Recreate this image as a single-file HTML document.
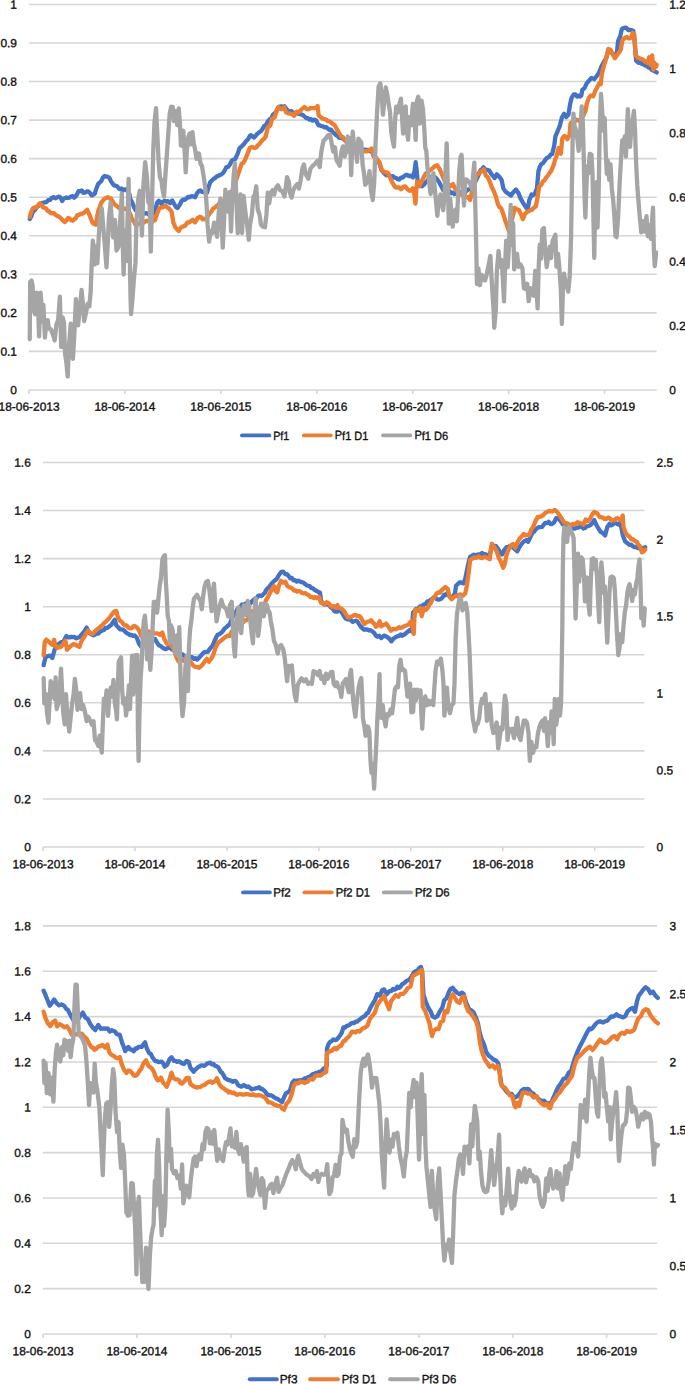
<!DOCTYPE html>
<html><head><meta charset="utf-8"><title>Portfolio charts</title>
<style>
html,body{margin:0;padding:0;background:#fff}
svg{display:block}
text{font-family:"Liberation Sans",sans-serif;font-size:11.95px;fill:#111;stroke:#111;stroke-width:.35}
.g{stroke:#d6d6d6;stroke-width:1.6;fill:none}
.ln{fill:none;stroke-width:4.3;stroke-linejoin:round;stroke-linecap:round}
</style></head><body>
<svg width="685" height="1384" viewBox="0 0 685 1384">
<rect width="685" height="1384" fill="#fff"/>

<g id="c1">
<path class="g" d="M28.9 4.45H656.6"/>
<text x="17" y="8.73" transform="rotate(.03 17 8.73)" text-anchor="end">1</text>
<path class="g" d="M28.9 43H656.6"/>
<text x="17" y="47.28" transform="rotate(.03 17 47.28)" text-anchor="end">0.9</text>
<path class="g" d="M28.9 81.55H656.6"/>
<text x="17" y="85.83" transform="rotate(.03 17 85.83)" text-anchor="end">0.8</text>
<path class="g" d="M28.9 120.1H656.6"/>
<text x="17" y="124.38" transform="rotate(.03 17 124.38)" text-anchor="end">0.7</text>
<path class="g" d="M28.9 158.65H656.6"/>
<text x="17" y="162.93" transform="rotate(.03 17 162.93)" text-anchor="end">0.6</text>
<path class="g" d="M28.9 197.2H656.6"/>
<text x="17" y="201.48" transform="rotate(.03 17 201.48)" text-anchor="end">0.5</text>
<path class="g" d="M28.9 235.75H656.6"/>
<text x="17" y="240.03" transform="rotate(.03 17 240.03)" text-anchor="end">0.4</text>
<path class="g" d="M28.9 274.3H656.6"/>
<text x="17" y="278.58" transform="rotate(.03 17 278.58)" text-anchor="end">0.3</text>
<path class="g" d="M28.9 312.85H656.6"/>
<text x="17" y="317.13" transform="rotate(.03 17 317.13)" text-anchor="end">0.2</text>
<path class="g" d="M28.9 351.4H656.6"/>
<text x="17" y="355.68" transform="rotate(.03 17 355.68)" text-anchor="end">0.1</text>
<path class="g" d="M28.9 389.95H656.6"/>
<text x="17" y="394.23" transform="rotate(.03 17 394.23)" text-anchor="end">0</text>
<text x="669.2" y="8.73" transform="rotate(.03 669.2 8.73)">1.2</text>
<text x="669.2" y="72.98" transform="rotate(.03 669.2 72.98)">1</text>
<text x="669.2" y="137.23" transform="rotate(.03 669.2 137.23)">0.8</text>
<text x="669.2" y="201.48" transform="rotate(.03 669.2 201.48)">0.6</text>
<text x="669.2" y="265.73" transform="rotate(.03 669.2 265.73)">0.4</text>
<text x="669.2" y="329.98" transform="rotate(.03 669.2 329.98)">0.2</text>
<text x="669.2" y="394.23" transform="rotate(.03 669.2 394.23)">0</text>
<path class="g" d="M29.05 389.95v4"/>
<text x="29.05" y="410.78" transform="rotate(.03 29.05 410.78)" text-anchor="middle">18-06-2013</text>
<path class="g" d="M124.97 389.95v4"/>
<text x="124.97" y="410.78" transform="rotate(.03 124.97 410.78)" text-anchor="middle">18-06-2014</text>
<path class="g" d="M220.89 389.95v4"/>
<text x="220.89" y="410.78" transform="rotate(.03 220.89 410.78)" text-anchor="middle">18-06-2015</text>
<path class="g" d="M316.81 389.95v4"/>
<text x="316.81" y="410.78" transform="rotate(.03 316.81 410.78)" text-anchor="middle">18-06-2016</text>
<path class="g" d="M412.73 389.95v4"/>
<text x="412.73" y="410.78" transform="rotate(.03 412.73 410.78)" text-anchor="middle">18-06-2017</text>
<path class="g" d="M508.65 389.95v4"/>
<text x="508.65" y="410.78" transform="rotate(.03 508.65 410.78)" text-anchor="middle">18-06-2018</text>
<path class="g" d="M604.57 389.95v4"/>
<text x="604.57" y="410.78" transform="rotate(.03 604.57 410.78)" text-anchor="middle">18-06-2019</text>
<path class="ln" stroke="#4472c4" d="M29.75 218.97 31.38 216.2 33.01 211.4 34.63 210.29 36.26 207.78 37.88 206.37 39.51 204.94 41.13 203.4 42.76 202.77 44.57 202.44 46.37 202.08 48.18 200.21 49.99 199.92 51.79 198.01 53.6 197.06 55.41 198.27 57.21 197.29 59.02 196.61 60.65 197.62 62.27 200.94 63.71 198.48 65.16 197.97 66.6 197.39 68.05 197.93 69.49 197.6 70.94 196.49 72.56 196.16 74.19 197.73 75.64 196.43 77.08 194.16 78.53 191.22 80.16 191.18 81.78 190.48 83.41 192.88 85.03 192.64 86.66 191.36 88.28 191.34 89.91 192.93 91.53 195.39 93.16 194.73 94.78 193.69 96.41 188.45 98.03 184.27 99.66 182.51 101.29 181.07 102.92 177.55 104.54 175.93 106.17 176.66 107.79 176.72 109.42 177.88 111.04 181.32 112.67 183.8 114.29 185.49 115.74 185.56 117.18 186.32 118.63 188.27 120.07 189.37 121.52 188.51 122.96 190.45 124.58 189.28 126.21 189.39 127.84 191.77 129.47 194.24 130 198.41 132.17 202.44 134.34 207.9 135.78 210.26 137.23 211.02 138.67 211.33 140.19 210.77 141.71 212.5 143.22 213.03 144.74 213.51 146.26 213.17 148.07 214 149.87 215.32 151.68 215.38 153.31 213.4 154.93 211.36 157.1 202.71 158.83 200.78 161.43 203.79 163.06 201.57 164.68 200.79 166.31 201.54 167.93 201.18 170.1 203.07 172.27 200.43 174.44 204.51 176.06 207.22 177.69 207.95 180.29 203.84 181.7 200.75 183.11 199.7 184.74 199.8 186.36 198.61 187.99 196.91 189.61 197.37 191.24 196.17 192.86 196.31 195.03 197.17 197.2 192.9 198.82 191.06 200.45 190.38 202.07 191.93 203.7 191.96 205.32 193.03 206.95 192.58 208.47 187.41 210.2 182.13 211.82 180.61 213.45 178.85 215.08 178.19 216.71 176.3 218.34 175.91 219.96 174.88 221.59 174.24 223.21 172.77 224.84 170.14 226.46 167.06 228.09 166.84 229.71 164.92 231.88 160.52 233.5 159.82 235.13 159.14 237.73 153.57 239.47 148.33 241.09 146.81 242.72 145.39 244.34 143.36 245.97 141.32 248.03 139.35 250.09 135.5 250.84 135.18 252.47 136.69 254.09 137.52 255.5 136.01 256.91 134.24 259.51 132.01 261.13 130.95 262.76 128.6 264.17 126.09 265.58 125.51 268.18 120.85 269.81 119.12 271.43 118.04 273.06 114.77 274.68 113.46 276.31 111.22 277.93 107.95 279.56 106.61 281.18 106.37 282.81 106.73 284.44 106.29 286.6 109.15 288.23 111.09 289.86 111.78 291.3 111.06 292.75 113.08 294.19 112.91 295.81 113.31 297.44 113.51 299.06 114.05 300.69 114.17 302.32 114.82 303.95 115.99 306.11 118.01 307.74 118.18 309.36 119.55 310.99 119.11 312.62 120.65 314.25 119.68 315.87 120.01 318.47 125.3 319.88 125.36 321.29 126.19 322.92 126.38 324.54 127.37 326.17 127.02 327.79 128.54 329.42 129.79 331.04 129.56 332.67 132.24 334.29 133.05 335.92 135.1 337.54 135.9 339.17 137.68 340.79 137.96 342.42 138.32 344.05 139.6 345.49 139.84 346.94 141.75 348.38 143.84 350.19 144.85 351.99 145.77 353.8 147.05 355.37 148.08 356.94 148.03 358.52 149.46 360.09 149.97 361.55 150.14 363.01 149.53 364.63 149.57 366.26 149.89 368.07 149.97 369.87 151.07 371.68 149.97 373.41 155.62 376.01 158.19 377.63 160.85 379.26 162.89 381.43 169.9 383.06 172.06 384.68 173.74 386.31 175.23 387.93 174.52 389.56 175.41 391.18 176.59 392.81 176.19 394.44 177.65 396.06 177.88 397.69 179.25 399.31 179.59 400.94 177.65 402.56 177.62 404.19 176.15 405.81 174.99 407.44 175.02 409.06 176.14 410.69 175.58 412.86 177.43 414.6 170.74 415.68 162.13 416.76 171.26 417.63 181.5 419.04 183.29 420.45 186.21 422.07 186.23 423.7 184.79 425.87 182.12 427.5 180.62 429.12 178.43 430.56 177.2 432.01 176.84 433.45 177.67 435.08 177.19 436.71 178.9 438.87 181.73 441.04 185.73 443.21 190.16 444.83 191.03 446.46 191.64 448.08 190.39 449.71 191.34 451.33 193.22 452.96 192.64 454.58 194.06 456.21 193.48 458.02 192.18 459.82 192.11 461.63 192.47 463.44 191.22 465.24 192.14 467.05 190.29 468.57 189.44 470.09 189.04 470.84 188.35 472.28 186.8 473.73 184.62 475.17 182.08 477.34 177.55 478.96 173.86 480.59 170.24 482 169.16 483.41 167.19 486.01 170.29 487.63 169.92 489.26 170.56 490.88 173.23 492.51 175.42 494.68 178 496.85 174.35 499.45 176.99 501.62 179.98 503.35 188.38 505.52 191.59 507.14 192.83 508.77 193.78 510.94 195.56 513.54 191.9 515.92 189.53 518.53 193.23 520.69 198.66 522.86 202.54 525.03 205.91 527.63 209.56 529.36 199.85 531.53 194.56 533.15 195.14 534.78 193.86 536.95 188.38 538.47 171.04 539.88 166.79 541.29 164.1 542.91 163.21 544.54 160.86 546.71 158.08 549.31 156.61 550.71 154.52 552.12 154.25 554.29 145.17 555.38 136.4 557.54 131.48 559.71 126.18 561.88 117.53 564.05 113.88 566.21 116.96 568.38 114.83 570.12 104.08 571.63 97.81 573.8 94.28 575.42 94.32 577.05 96.47 578.57 95.71 580.09 96.56 581.26 95.64 582.34 89.9 584.51 88.07 586.68 83.4 588.84 80.91 591.45 77.92 592.86 78.41 594.26 79.16 595.67 77.26 597.08 75.55 599.25 72.29 601.42 66.46 603.58 62.48 606.18 58.16 608.35 50.38 610.95 51.72 613.12 54.54 615.29 56.7 617.02 51.72 618.11 40.9 620.27 36.13 621.79 29.16 623.96 27.8 626.13 27.58 628.29 30.12 630.46 29.8 631.87 30.2 633.28 30.7 634.8 43.07 636.1 60.54 638.7 62.83 640.33 62.49 641.95 64.03 643.58 64.24 645.2 65.46 646.83 66.05 648.45 67.53 650.08 67.33 651.71 69.84 654.31 71.21 656.69 72.43"/>
<path class="ln" stroke="#ed7d31" d="M29.75 216.81 31.38 211.37 33.01 208.18 34.63 207.44 36.26 207.4 37.88 205.8 39.51 203.58 41.13 204.42 42.76 207.28 44.38 207.63 46.01 208.37 47.63 210.71 49.26 211.45 50.88 213.17 52.51 213.24 54.14 213.13 55.77 214.99 57.4 216.06 59.02 216.81 60.65 217.96 62.27 219.8 64.87 222.06 66.5 220.5 68.12 217.96 69.75 218.52 71.37 220.48 72.78 220.73 74.19 219.29 75.81 218.18 77.44 215.05 79.06 214.77 80.69 213.96 82.32 213.59 83.95 212.75 85.58 211.39 87.2 209.76 89.8 215.6 91.21 219.39 92.62 222.8 94.25 224.08 95.87 224.71 98.03 211.53 99.66 207.53 101.29 202.63 102.92 200.6 104.54 198.76 106.17 197.91 107.79 197.18 109.42 198.42 111.04 198.49 112.67 201.65 114.29 204.21 115.92 205.35 117.54 206.72 119.17 208.04 120.79 209.13 122.6 208.06 124.4 208.8 126.21 208.83 128.1 210.91 130 213.52 132.17 219.72 133.79 221.17 135.42 224.49 137.23 224.55 139.03 223.45 140.84 222.27 142.28 221.2 143.73 222.56 145.17 221.3 146.79 220.87 148.42 221 150.05 222.17 151.68 222.07 153.31 220.91 154.93 220.19 157.1 213.78 159.26 208.29 160.88 207.4 162.51 207.29 164.14 206.3 165.77 205.83 167.4 207.53 169.02 208.34 171.62 211.71 173.35 222.58 175.52 227.57 177.15 229.35 178.77 230.94 180.4 228.14 182.02 226.82 183.65 226.35 185.27 225.53 187.44 222.5 189.06 222.52 190.69 221.18 192.86 219.71 195.03 222.33 197.63 218.1 199.8 216.72 201.21 217.24 202.62 219.38 204.25 218.65 205.87 219.71 208.47 215.36 209.88 212.98 211.29 211.69 212.91 208.7 214.54 207.89 216.16 206.23 217.79 205.18 219.41 203.28 221.04 202.87 222.66 201.04 224.29 200.67 225.91 198.99 227.54 197.11 229.16 195.25 230.79 194.37 232.42 190.61 234.05 185.42 235.68 181.61 237.3 176.9 239.47 170.27 241.63 163.76 243.25 162.96 244.88 160.24 247.05 154.88 248.67 151.14 249.75 147.9 251.92 146.98 254.09 147.87 256.26 147.39 257.88 145.18 259.51 143.88 261.13 141.69 262.76 139.75 264.17 138.71 265.58 136.93 267.75 127.5 270.35 125.54 272.08 118.71 274.68 117.43 276.42 111.69 278.58 107.28 281.18 109.25 282.81 108.3 284.44 107.3 285.95 112.15 287.36 112.96 288.77 113.49 290.39 113.64 292.02 113.91 294.19 115.89 296.79 111.69 298.2 112.58 299.61 111.6 301.78 109.18 304.38 107.05 305.79 108.22 307.2 109.37 308.82 109.23 310.45 107.93 312.07 108.08 313.7 108.12 315.87 107.82 317.6 105.96 318.68 115.49 321.29 117.48 322.92 118.74 324.54 119.08 326.17 119.68 327.79 121.03 329.42 121.32 331.04 122.49 333.64 124.42 335.05 125.76 336.46 128.51 338.08 131.34 339.71 134.04 341.33 136.57 342.96 137.31 344.7 140.45 346.29 141.77 347.88 142.83 349.47 145.18 351.27 145.16 353.08 146.43 354.88 147.74 356.84 148.62 358.79 149.9 358.67 149.09 360.3 150.92 361.92 150.27 363.55 150.72 365.17 151.3 366.8 151.39 368.42 150.51 370.05 149.51 371.68 148.46 373.41 155.57 376.01 157.66 377.63 160.17 379.26 161.82 381.43 169.04 383.06 171.11 384.68 172.17 386.31 172.35 387.93 172.81 390.1 177.81 392.27 182.46 394.44 186.15 396.06 187.7 397.69 187.47 399.31 187.51 400.94 189.21 403.11 186.83 405.27 186.31 407.44 189.18 409.06 190.52 410.69 190.71 412.86 188.29 414.38 194.73 415.46 203.54 416.33 190.09 417.2 181.72 419.36 186.04 421.53 181.48 423.7 177.17 425.87 173.41 427.5 173.17 429.12 170.93 430.75 169.67 432.37 168.46 434.54 166.4 437.14 165.13 439.31 168.59 441.47 173.42 443.21 177.52 444.83 181.22 446.46 183.22 448.3 184.03 450.14 186.4 451.55 185.03 452.96 184.09 455.13 188.55 456.54 190.53 457.95 191.8 460.55 194.48 462.5 194.38 464.45 195.42 466.29 197.15 468.14 197.21 470.09 200.05 471.55 193.64 473.01 188.47 474.63 182.82 476.26 175.64 478.42 173.41 480.05 171.53 481.68 171.38 483.84 169.3 486.01 175.95 487.63 176.97 489.26 180.21 491.43 186.4 493.6 190.65 495.77 196.22 497.93 204.2 499.56 207.15 501.18 208.3 503.35 214.41 505.52 221.36 507.69 227.41 509.42 232.43 511.59 221.09 513.11 214.97 514.62 207.95 516.79 209.14 518.96 210 521.13 214.63 522.86 219.13 525.03 213.85 527.63 211.69 529.04 210.97 530.45 210.14 531.86 209.83 533.27 208.25 535.87 206.23 537.6 197.22 539.12 186.59 541.29 184.74 542.91 181.55 544.54 180.24 546.16 177.56 547.79 175.52 549.41 173.33 551.04 171.11 553.64 165.24 555.05 159.71 556.46 156.39 558.63 147.96 560.79 153.76 562.31 138.61 564.48 135.87 565.89 136.72 567.3 139.16 569.47 135.48 570.55 123.4 572.72 121.51 574.35 121.46 575.97 119.68 578.14 120.05 580.09 121.52 581.26 120.1 583.42 115.28 585.59 110.51 586.68 103.94 588.84 97.94 591.01 95.45 593.18 96.25 595.35 90.71 597.51 86.91 599.25 83.16 600.77 84.26 601.85 73.83 604.02 65.4 606.18 58.63 608.35 48.89 610.52 49.8 612.69 54.24 614.86 58.19 617.02 54.97 619.19 52.43 620.92 49.01 622.44 40.09 624.61 38.14 626.78 36.95 628.95 38.62 631.11 37.75 632.63 32.87 634.36 34.53 635.45 54.44 637.62 57.75 639.78 58.23 641.19 59.45 642.6 59.52 645.2 61.64 647.37 63.08 649.1 57.24 650.62 65.08 652.14 55.32 653.44 69.69 654.52 62.88 656.04 66.8 656.69 64.81"/>
<path class="ln" stroke="#a5a5a5" d="M29.75 339.28 30.19 281.78 31.49 280.63 32.57 285.17 33.44 308.88 35.17 314.26 36.69 292.66 37.99 304.35 39.08 336.46 40.59 292.57 41.68 307.26 42.76 321.95 43.41 304.85 44.93 337.63 46.45 320.95 47.75 320.19 48.83 328.38 50.78 329.16 52.51 333.34 54.68 340.35 56.42 324.41 58.15 320.16 59.88 296.7 61.18 346.96 62.7 317.51 64 322.67 65.09 353.85 66.39 362.8 67.69 376.45 68.99 345.44 70.72 323.69 71.59 338.78 72.89 358.95 74.19 337.42 75.92 299.21 77.01 309.05 78.09 325.3 79.83 308.63 81.56 289.92 82.86 303.3 84.16 321.1 85.9 313.2 87.63 303.99 89.36 306.31 90.66 291.53 91.53 268.08 92.83 240.59 93.92 249.99 94.78 264.43 96.08 246.28 97.38 263.08 98.47 241.58 99.77 220.45 101.72 208.27 103.02 224.04 104.54 242.13 106.49 267.35 107.79 242.24 108.87 218.28 110.61 202.52 111.91 223.91 113.21 237.45 114.94 219.87 116.46 250.52 118.41 247.12 119.93 224.18 121.01 207.04 121.88 193.43 122.75 242.25 123.61 274.49 124.91 230.63 126.43 260.86 127.51 220.25 128.6 178.97 129.47 241.7 130.55 298 131.08 314.16 132.6 297.67 133.9 278.75 135.42 263.4 136.5 220.08 138.24 198.81 139.75 190.77 140.84 211.52 141.92 235.51 143.44 185.15 145.17 162.2 146.91 176.81 148.42 202.69 149.51 193.83 150.81 251.58 152.11 198.71 153.19 152.69 154.49 122.15 156.01 108.1 157.31 133.7 158.61 161.65 159.91 177.14 161.43 180.83 162.51 189.34 164.03 196.67 165.33 176.25 166.85 154.74 168.37 132.86 169.67 113.86 171.18 106.77 172.7 106.91 174 121.03 175.52 111.06 177.25 125.2 178.77 108.37 179.86 122.1 180.94 145.62 182.02 132.83 183.32 130.79 184.62 151.04 185.71 172.35 186.79 151.1 188.09 137.84 189.61 133.35 190.91 144.36 192.43 132.08 193.73 143.88 195.03 148.92 196.55 158.91 198.93 153.45 200.45 163.39 201.97 166.15 203.7 176.6 205.22 187.63 206.52 203.19 207.6 224.66 209.12 241.62 210.64 231.01 212.37 232.93 214.1 222.7 215.62 229.19 217.14 236.89 218.87 211.18 220.39 198.63 221.91 228.84 222.77 247.63 224.08 220.53 225.38 189.67 226.89 202.31 228.41 211.83 229.71 192.24 231.01 231.52 232.31 198.22 233.61 176.61 234.91 163.02 236.21 194.49 237.73 233.18 239.03 211.23 240.55 194.46 242.07 232.98 243.58 195.99 245.32 211.67 247.05 223.93 248.79 239.72 249.97 224.84 251.92 214.21 253.44 196.62 254.74 194.93 256.26 186.29 257.77 209.52 259.51 214.52 261.03 224.68 262.76 226.63 264.93 227.28 266.45 214.45 267.75 192.59 269.26 203.26 270.78 192.64 272.51 190.37 274.25 194.55 275.77 188.32 277.93 185.23 280.1 190.2 282.27 191.18 284.44 196.43 285.95 185.73 287.04 177.1 288.77 181.48 289.86 192.68 291.59 197.63 293.11 190.74 295.27 186.4 297.44 183.99 298.96 188.61 300.69 179.91 302.43 168.36 303.95 164.39 305.46 173.26 306.87 176.26 308.28 178.72 310.45 168.75 312.62 165.98 314.78 164.1 316.19 162.27 317.6 160.8 319.77 167.02 321.29 151.8 323.45 140.82 325.62 138.67 327.79 135.47 329.96 134.56 331.47 142.31 333.21 151.61 334.94 147.34 336.46 160.19 337.98 162.52 339.71 165.66 341.45 151.3 342.96 146.38 344.7 156.47 346.21 150.87 347.73 136.52 349.03 151.58 350.12 138.07 351.2 175.15 352.72 131.61 354.23 146.88 355.97 150.95 357.05 161.81 358.35 138.75 360.09 140.84 361.27 142.36 362.57 164.37 364.09 173.55 365.17 184.72 366.91 182.25 368.42 179.55 369.51 171.11 371.03 190.56 372.76 200.14 374.28 181.34 375.58 142.79 377.1 111.9 378.61 86.59 380.35 83.28 381.86 97.45 382.95 114.67 384.25 101.86 385.77 87.35 387.28 94.82 388.58 103.27 390.1 112.64 391.18 131.93 392.7 140.97 394 146.67 395.09 120.52 396.17 106.63 397.69 112.63 399.42 104.02 400.94 98.69 402.02 116.89 403.11 133.64 404.19 116.85 405.71 106.37 406.79 130.11 408.09 139.7 409.39 117.14 411.13 125.31 412.86 103.89 414.38 116.32 415.68 139.85 416.76 101.65 418.28 96.7 419.8 123.57 421.53 100.54 423.05 109.95 424.13 125.7 425.22 147.28 426.3 150.9 427.6 168.87 429.12 181.9 430.64 193.98 431.94 181.94 433.45 173.1 434.97 190.68 436.27 203.81 437.36 215.78 438.87 199.25 440.61 194.45 441.91 203.9 443.21 210.21 444.51 194.26 445.59 168.86 446.68 143.31 447.76 181.83 448.84 223.61 450.14 198.61 451.45 214.58 452.75 226.69 454.05 211.6 455.56 209.44 456.86 221.27 457.95 198.73 459.25 171.4 460.55 156.86 461.63 154.81 462.72 182.15 464.02 205.58 465.32 179.34 467.05 179.76 468.79 182.03 470.09 183.76 471.92 188.82 473.44 171.77 474.31 162.61 475.17 201.72 476.26 245.61 476.91 283.98 478.42 268.48 479.94 285.23 481.68 274.98 483.41 277.63 484.93 280.47 486.45 275.94 487.75 269.17 489.26 261.82 490.35 255.93 491.43 275.86 492.51 293.08 493.6 310.25 494.25 327.75 495.77 310.43 496.85 271.2 498.58 251.03 500.1 266.68 501.62 260.17 502.92 279.89 504 301.4 505.09 266.79 506.17 240.6 507.69 267.09 508.77 248.95 509.86 223.42 510.72 204.79 512.02 245.45 513.11 223.25 514.19 269.41 515.71 258.07 517.01 253.75 518.53 266.8 520.69 264.56 522.43 268.41 523.95 288.38 525.46 289.11 527.2 283.82 528.71 301.21 530.45 288.12 531.97 293.2 533.7 295.78 535.22 270.99 536.52 288.54 537.6 308.36 538.68 266.96 539.77 244.68 541.07 258.58 542.37 229.46 543.89 228 545.19 249.94 546.71 267.04 548.22 256.41 549.74 246.79 551.04 258.02 552.56 240.63 553.86 238.17 555.38 234.75 556.46 266.64 557.98 253.81 559.28 266.62 560.79 288.76 561.88 324.05 562.96 288.09 564.05 273.62 565 280.01 566.73 286.09 568.25 291.56 569.77 275.26 571.07 237.95 571.94 183.92 572.8 130.22 573.45 113.57 574.54 125.51 575.84 129.97 577.36 139.13 578.66 150.8 579.74 140.86 580.82 121.58 581.69 106.45 582.77 121.6 583.64 151.96 584.51 194.9 585.38 217.53 586.24 190.43 587.33 166.46 588.41 173.31 589.71 153.78 591.45 154.68 592.53 173.87 593.4 216.95 594.26 257.88 595.35 194.86 596.65 182.06 597.51 227.52 598.6 195.5 599.68 129.73 600.98 93.9 602.28 112.2 603.37 130.26 604.67 118.1 605.75 152.02 606.84 173.9 607.92 160.81 609.22 179.79 610.52 164.41 611.82 188.72 613.12 199.41 614.42 216.95 615.51 236.29 616.59 237.12 618.11 217.15 619.62 183.73 620.92 160.89 622.23 140.31 623.53 147.3 624.83 136.36 625.91 156.51 626.99 130.34 627.86 109.04 628.95 130.42 630.03 146.88 631.33 127.98 632.63 121.09 633.93 110.99 635.01 130.11 636.1 162.58 637.18 184.2 638.27 198.95 639.78 216.86 641.3 232.46 643.03 221.11 644.77 231.61 646.5 216.24 647.8 236.39 649.54 225.46 650.84 238.76 652.14 219 653.01 207.68 653.87 249.76 654.74 266.05 655.61 257.82 656.04 252.47"/>
<path class="ln" style="stroke-width:3.9" stroke="#4472c4" d="M241.95 435.4H269.35"/>
<text x="273.2" y="439.5" transform="rotate(.03 273.2 439.5)" textLength="16.0" lengthAdjust="spacingAndGlyphs">Pf1</text>
<path class="ln" style="stroke-width:3.9" stroke="#ed7d31" d="M303.85 435.4H330.65"/>
<text x="334.8" y="439.5" transform="rotate(.03 334.8 439.5)" textLength="33.5" lengthAdjust="spacingAndGlyphs">Pf1 D1</text>
<path class="ln" style="stroke-width:3.9" stroke="#a5a5a5" d="M383.05 435.4H410.25"/>
<text x="414.4" y="439.5" transform="rotate(.03 414.4 439.5)" textLength="33.9" lengthAdjust="spacingAndGlyphs">Pf1 D6</text>
</g>
<g id="c2">
<path class="g" d="M42.9 462.5H644.4"/>
<text x="30.8" y="466.78" transform="rotate(.03 30.8 466.78)" text-anchor="end">1.6</text>
<path class="g" d="M42.9 510.56H644.4"/>
<text x="30.8" y="514.84" transform="rotate(.03 30.8 514.84)" text-anchor="end">1.4</text>
<path class="g" d="M42.9 558.62H644.4"/>
<text x="30.8" y="562.9" transform="rotate(.03 30.8 562.9)" text-anchor="end">1.2</text>
<path class="g" d="M42.9 606.69H644.4"/>
<text x="30.8" y="610.97" transform="rotate(.03 30.8 610.97)" text-anchor="end">1</text>
<path class="g" d="M42.9 654.75H644.4"/>
<text x="30.8" y="659.03" transform="rotate(.03 30.8 659.03)" text-anchor="end">0.8</text>
<path class="g" d="M42.9 702.81H644.4"/>
<text x="30.8" y="707.09" transform="rotate(.03 30.8 707.09)" text-anchor="end">0.6</text>
<path class="g" d="M42.9 750.88H644.4"/>
<text x="30.8" y="755.15" transform="rotate(.03 30.8 755.15)" text-anchor="end">0.4</text>
<path class="g" d="M42.9 798.94H644.4"/>
<text x="30.8" y="803.22" transform="rotate(.03 30.8 803.22)" text-anchor="end">0.2</text>
<path class="g" d="M42.9 847H644.4"/>
<text x="30.8" y="851.28" transform="rotate(.03 30.8 851.28)" text-anchor="end">0</text>
<text x="656.5" y="466.78" transform="rotate(.03 656.5 466.78)">2.5</text>
<text x="656.5" y="543.68" transform="rotate(.03 656.5 543.68)">2</text>
<text x="656.5" y="620.58" transform="rotate(.03 656.5 620.58)">1.5</text>
<text x="656.5" y="697.48" transform="rotate(.03 656.5 697.48)">1</text>
<text x="656.5" y="774.38" transform="rotate(.03 656.5 774.38)">0.5</text>
<text x="656.5" y="851.28" transform="rotate(.03 656.5 851.28)">0</text>
<path class="g" d="M43.05 847v4"/>
<text x="43.05" y="868.18" transform="rotate(.03 43.05 868.18)" text-anchor="middle">18-06-2013</text>
<path class="g" d="M134.99 847v4"/>
<text x="134.99" y="868.18" transform="rotate(.03 134.99 868.18)" text-anchor="middle">18-06-2014</text>
<path class="g" d="M226.93 847v4"/>
<text x="226.93" y="868.18" transform="rotate(.03 226.93 868.18)" text-anchor="middle">18-06-2015</text>
<path class="g" d="M318.87 847v4"/>
<text x="318.87" y="868.18" transform="rotate(.03 318.87 868.18)" text-anchor="middle">18-06-2016</text>
<path class="g" d="M410.81 847v4"/>
<text x="410.81" y="868.18" transform="rotate(.03 410.81 868.18)" text-anchor="middle">18-06-2017</text>
<path class="g" d="M502.75 847v4"/>
<text x="502.75" y="868.18" transform="rotate(.03 502.75 868.18)" text-anchor="middle">18-06-2018</text>
<path class="g" d="M594.69 847v4"/>
<text x="594.69" y="868.18" transform="rotate(.03 594.69 868.18)" text-anchor="middle">18-06-2019</text>
<path class="ln" stroke="#4472c4" d="M43.67 665.16 45.4 657.53 47.57 656.09 50.17 655.71 52.34 657.88 54.08 651.48 55.59 646.83 57 644.78 58.41 644.16 61.01 642.15 62.42 642.46 63.83 640.79 66.43 635.99 68.06 637.31 69.68 637.38 71.31 636.79 72.93 637.03 74.56 637.02 76.18 638.39 77.81 637.61 79.44 637.2 81.6 634.61 83.01 633.04 84.42 631.26 86.59 627.54 88.11 630.61 89.52 633.19 90.92 633.95 93.53 635.23 95.16 634.61 96.78 633.35 98.41 633.61 100.03 631.7 102.63 630.42 104.04 630.03 105.45 627.9 107.08 627.93 108.7 626.82 111.3 624.73 113.47 621.56 114.77 619.74 116.29 625.33 118.45 627.45 120.08 629.25 121.71 629.41 123.33 629.79 124.96 631.35 126.59 632.98 128.21 633.85 129.84 635.04 131.46 634.79 133.09 635.8 134.71 635.53 136.88 637.89 139.05 643.63 141.21 646.62 142.84 646.17 144.47 645.43 146.09 642.34 147.72 642.14 149.19 641.21 150.67 641.1 152.14 640.71 153.62 639.05 155.09 639.01 156.92 642.46 159.09 645.43 160.72 645.94 162.34 647.55 163.97 648.57 165.59 649.21 167.22 648.27 168.84 647.63 170.29 647.75 171.73 649.39 173.18 649.78 174.99 650.88 176.79 653.05 178.6 654.26 180.41 654.39 182.21 654.24 184.02 655.52 185.65 656.79 187.27 656.22 188.9 656.02 190.52 657.16 192.15 657.05 193.77 658.89 195.4 658.23 197.02 659.51 199.19 657.68 201.79 654.73 203.2 653.03 204.61 652.11 206.24 651.93 207.86 651.73 210.03 648.55 212.63 645.6 214.8 640.4 216.21 637.05 217.62 634.82 219.25 634.31 220.87 633.06 222.5 631.67 224.12 629.03 225.75 627.85 227.37 626.24 229.97 623.96 231.71 618.66 233.87 615.4 235.5 613.17 237.12 609.66 238.75 607.67 240.38 606.91 242 604.51 243.63 604.87 245.25 603.92 246.88 602.7 248.5 603.6 250.13 603.53 251.75 601.56 253.38 599.92 255 598.79 256.63 598.12 258.25 595.82 259.88 595.44 261.51 595.97 263.14 594.48 265.09 592.54 265.84 590.5 268.01 587.94 269.63 586.47 271.26 583.91 272.88 582.28 274.51 580.74 276.68 579.02 278.84 575.23 281.01 572.13 283.18 571.55 285.35 574.26 286.98 574.13 288.6 575.98 290.23 578.37 291.85 577.95 293.48 580.45 295.1 580.05 296.73 581.54 298.35 580.68 299.98 581.54 301.6 582.21 303.23 582.51 304.86 583.82 306.49 585.24 308.11 585.87 309.74 586.21 311.36 587.97 312.99 588.43 314.61 589.95 316.24 590.78 317.86 591.62 320.03 592.71 321.11 600.94 322.74 603.26 324.36 604.51 325.99 603.13 327.62 604.48 329.25 604.99 330.87 607.58 332.5 608.17 334.12 610.96 335.75 611.68 337.37 611.51 339.97 610.51 341.38 611.8 342.79 614.01 344.42 616.86 346.04 618.74 347.67 619.37 349.29 619.5 350.92 620.05 352.54 621.91 354.17 621.33 355.79 620.62 357.42 621.51 359.05 624.18 360.68 626.64 362.3 628.18 363.93 629.68 365.55 629.49 367.18 629.41 368.8 630.28 370.43 630.24 372.05 631.24 373.57 632.3 375.09 634.33 375.84 635.58 377.46 636.78 379.09 635.66 381.26 638.09 382.67 636.66 384.08 635.57 386.68 636.77 389.28 638.61 391.45 641.33 392.86 639.25 394.26 638.04 395.88 636.95 397.51 636.24 399.14 635.82 400.77 634.42 402.39 635.74 404.02 634.77 405.64 633.47 407.27 632.07 409.44 630.16 411.6 631.31 413.12 612.29 414.53 611.37 415.94 608.99 417.56 608.88 419.19 607.24 420.81 605.81 422.44 606.47 424.06 604.28 425.69 603.97 427.32 601.51 428.95 601.38 430.57 599.92 432.2 598.77 433.82 597.36 435.45 597.9 437.07 599.38 438.7 599.56 440.87 598.95 442.5 597.51 444.12 594.59 445.75 595 447.37 593.18 449.97 596.67 451.38 597.63 452.79 596.56 454.96 593.45 456.04 585.78 458.64 583.3 460.05 582.18 461.46 582.66 463.63 583.4 465.14 579.13 466.88 570.78 468.61 562.42 470.13 556.93 472.3 555.6 473.93 554.59 475.55 555.42 477.18 554.7 478.8 554.5 480.43 554.67 482.05 553.03 483.57 554.52 485.09 554.07 486.55 555.18 488.01 555.42 490.17 553.43 491.91 547.16 494.51 545.94 496.13 546.19 497.76 548.42 499.93 552.16 502.1 554.5 504.26 550.01 506.43 547.2 508.06 547.12 509.68 546.03 511.3 547.2 512.93 547.36 515.1 549.47 517.27 551.32 519.44 547.01 521.6 544.09 523.23 541.97 524.86 540.94 526.49 540.03 528.11 541.84 530.27 537.33 532.44 532.8 534.07 531.61 535.69 529.4 537.32 528.13 538.95 527.17 540.58 527.02 542.2 526.85 543.83 524.42 545.45 522.81 547.08 523.18 548.7 521.88 550.33 523.98 551.95 524.09 554.12 522.32 556.29 517.97 558.45 518.63 560.62 520.95 562.79 524.22 564.41 525.24 566.04 525.04 567.49 525.83 568.93 525.32 570.38 526.76 572 527.48 573.63 528.54 575.27 528.54 576.92 527.53 578.54 527.62 580.17 526.42 581.79 526.69 583.42 528.55 585.05 528.01 586.68 526.41 588.3 525.97 589.93 525.45 592.1 523.43 594.26 520.07 596.43 524.94 598.6 528.78 600.77 531.97 602.93 533.19 605.1 535.37 607.27 527.27 609.44 523.88 611.07 525.37 612.69 524.5 614.32 523.12 615.94 523.12 617.57 524.36 619.19 523.45 621.36 527.5 623.09 536.26 625.26 541.59 627.86 543.54 629.49 544.89 631.11 544.55 632.74 546.22 634.36 547.1 635.99 546.87 637.62 548.03 639.25 547.81 640.87 549.38 643.47 547.91 645.2 547.14"/>
<path class="ln" stroke="#ed7d31" d="M43.67 655.4 44.75 642.16 46.27 639.52 48.44 641.38 50.61 643.47 52.34 644.73 54.08 639.89 55.59 646.55 57.76 647.75 59.17 646.71 60.58 647.12 63.18 644.21 65.35 640.64 67.08 649.76 69.68 646.96 72.28 644.79 73.69 644.04 75.1 644.6 77.27 645.73 79.44 646.85 80.95 642.29 83.12 638.34 84.53 636.66 85.94 633.63 88.11 630.64 90.27 632.83 91.68 633.75 93.09 633.62 95.69 630.66 98.29 628.44 99.7 627.45 101.11 625.93 102.52 624.84 103.93 623.11 106.53 621.08 109.13 618.36 110.54 616.29 111.95 614.41 114.12 611.64 116.29 610.94 117.8 616.76 119.97 620.81 122.14 622.21 123.55 624.46 124.96 625.43 126.59 625.4 128.21 627.58 129.84 628.33 131.46 628.31 132.87 626.74 134.28 626.01 136.88 627.35 139.05 630.53 141.21 636.02 142.66 634.48 144.1 634.77 145.55 634.08 147.18 631.82 148.8 631.43 150.43 633.02 152.05 633.54 153.57 632.88 155.09 633.43 157.57 633.37 160.17 634.82 162.34 632.59 164.08 638.46 166.68 643.54 168.31 643.85 169.93 644.43 171.34 646.15 172.75 646.98 175.35 654.08 176.97 658.56 178.6 661.55 180.22 661.88 181.85 659.5 183.29 660.32 184.74 661.13 186.18 660.58 187.63 661.98 189.07 660.72 190.52 661.8 193.12 665.57 194.53 666.52 195.94 667.03 197.35 666.86 198.76 667.88 201.36 666.05 203.96 662.71 205.37 660.38 206.78 658.9 208.95 661.76 211.11 658.97 213.28 654.73 215.45 647.89 217.62 643.63 219.03 642.06 220.43 641.06 223.03 639.03 224.66 637.49 226.29 636.58 227.91 635.67 229.54 636.03 231.71 631.28 233.34 630.84 234.96 628.16 236.59 627.43 238.21 624.84 239.84 624.66 241.46 622.91 243.09 622.45 244.71 620.34 246.34 620.43 247.96 618.63 249.59 614.64 251.21 611.65 252.66 611.48 254.1 610.74 255.55 609.81 256.99 608.95 258.44 609.08 259.88 607.43 261.51 606.28 263.14 604.18 265.09 603.07 265.84 600.66 268.01 596.93 270.17 592.56 272.34 588.4 274.08 586.15 275.59 591 277.33 592.28 278.84 585.74 281.01 580.78 283.18 582.62 285.35 581.79 287.51 586.19 289.14 587.1 290.77 587.64 292.39 588.57 294.02 590.51 295.64 590.51 297.27 591.59 298.89 590.9 300.52 591.63 302.14 593.03 303.77 593.49 305.39 593.05 307.02 594.44 308.64 594.99 310.27 597.02 311.9 596.86 313.53 598.05 315.15 597.11 316.78 597.99 318.95 597.05 321.11 603.02 322.74 602.71 324.36 604.2 326.53 602.27 328.7 603.31 330.32 605.5 331.95 606.87 333.57 606.17 335.2 607.45 337.37 605.1 339 607.93 340.62 608.3 342.25 609.29 343.87 610.76 346.47 615 347.88 617.27 349.29 617.31 350.92 616.89 352.54 616.04 354.17 615.08 355.79 614.97 357.42 616.13 359.05 615.83 360.68 617.4 362.3 620.34 364.47 624.09 366.1 622.43 367.72 621.6 369.35 621.47 370.97 620.21 373.14 622.84 375.09 624.66 375.84 626.79 378.01 624.92 379.74 621.24 381.26 626.36 383.42 624.8 384.83 624.56 386.24 623.62 388.84 627.4 391.01 630.71 392.63 629.14 394.26 628.96 395.88 629.28 397.51 628.2 399.14 627.28 400.77 627.91 402.39 627.32 404.02 626.36 405.64 625.55 407.27 625.23 408.68 624.37 410.09 622.4 411.6 620.95 412.69 627.34 413.77 633.84 414.42 618.04 415.29 609.55 416.7 609.53 418.11 610.78 420.27 607.84 421.79 616.06 423.53 608.77 425.69 610.08 428.29 607.16 429.7 604.19 431.11 602.39 432.52 598.82 433.93 598.15 436.53 593.66 438.15 592.42 439.78 592.77 441.19 590.81 442.6 589.33 445.2 586.98 447.8 589.02 449.54 596.85 451.71 599.19 454.31 596.75 455.72 595.83 457.12 595.99 458.75 594.77 460.38 594.45 462.98 595.49 465.14 593.69 466.88 585.64 468.61 572.97 470.13 560.03 472.3 558.71 473.93 557.49 475.55 557.94 477.18 557.37 478.8 556.47 480.43 557.85 482.05 558.02 483.57 557.28 485.09 556.85 487.57 558.02 489.74 559.21 490.82 549.51 491.91 543.77 494.08 546.93 496.68 551.33 498.84 558.19 501.01 561.91 503.18 567.71 504.7 564.24 506.43 555.31 508.6 549.26 510.77 545.79 512.93 544.04 515.1 547.78 517.27 542.74 519.44 538.77 521.6 536.54 523.77 533.96 525.18 535.39 526.59 534.94 529.19 535.25 531.36 529.32 533.53 526.03 535.69 520.64 537.86 516.86 539.49 516.98 541.11 516.37 543.28 514.91 545.45 512.64 547.08 511.97 548.7 510.99 550.33 511.26 551.95 511.46 553.36 510.76 554.77 509.91 557.37 512.21 559.54 515.24 561.71 518.53 563.87 522.13 566.04 523.2 567.85 523.58 569.65 524.59 571.46 525.52 573.09 523.76 574.71 524.06 576.14 523.64 577.57 522.21 580.17 523.31 581.79 523.29 583.42 524.65 585.59 519.51 587.76 521.23 589.93 519.15 592.1 514.68 594.26 511.88 595.67 512.7 597.08 513.24 599.68 517.08 601.3 517.13 602.93 517.67 604.55 518.94 606.18 518.9 607.81 517.71 609.44 517.94 611.07 519.95 612.69 520.09 614.32 520.29 615.94 518.53 617.57 518.16 619.19 519.4 621.36 520.63 622.66 515.33 623.53 527.33 625.69 533.07 628.29 535.97 629.7 536.69 631.11 539.34 632.74 539.22 634.36 540.63 636.97 541.97 638.38 544.9 639.78 545.96 641.95 552.34 644.12 551.04 645.2 549.55"/>
<path class="ln" stroke="#a5a5a5" d="M43.67 678.16 44.32 703.38 45.84 693.91 46.92 711.96 48.44 722.64 49.52 703.42 50.61 681.25 51.91 696.54 52.99 683.33 54.51 699.09 55.59 677.32 56.68 708.99 58.41 703.19 59.93 685.91 61.01 668.68 62.1 690.4 63.18 712 64.7 724.29 66 694.15 67.51 716.42 69.25 731.49 70.77 716.2 72.28 702.7 73.58 694.59 74.88 679.01 76.18 689.65 77.49 709.76 79 702.82 80.09 693.14 81.6 709.16 83.12 704.96 84.86 711.29 86.59 721.14 88.11 716.62 90.27 720.69 91.79 724.71 93.53 721.25 95.04 740.16 96.78 742.14 98.29 746.03 99.6 735.65 100.68 744.74 101.76 752.57 102.85 722.84 103.93 698.6 105.45 702.76 106.53 690.38 108.05 715.88 109.35 696.57 110.87 687.43 111.95 696.68 113.47 679.89 114.77 702.59 116.29 711.95 116.94 719.25 117.8 689.65 118.67 661.72 119.97 659.42 121.05 657.34 122.14 690 123.22 703.52 124.74 698.29 126.04 715.47 127.56 703.56 128.86 685.52 129.94 709.1 131.03 681.2 132.11 655.72 133.19 694.53 134.28 668.47 135.36 655.26 136.45 690.45 137.31 655.02 137.96 732.99 138.61 760.89 139.48 711.28 140.56 679.13 141.65 663.93 142.73 636.25 143.82 621.02 144.9 615.59 145.98 629.03 147.07 659.37 148.15 634.09 149.23 651.43 150.32 669.8 151.62 651.58 152.7 625.57 153.79 601.82 155.09 607.54 155.84 601.69 157.14 612.5 158.44 598.63 159.74 585.68 161.04 577.33 162.34 560.07 163.64 556.36 164.94 555.18 165.81 581.27 166.68 595.1 167.76 616.53 168.84 620.46 169.93 642.8 171.01 625.13 172.53 629.59 173.83 642.2 175.35 653.4 176.86 635.45 178.16 655.34 179.25 627.27 180.33 668.52 181.42 701.14 182.5 716.22 184.02 702.8 185.32 668.56 186.62 655.69 187.92 691.17 189 646.21 190.09 629.59 191.39 620.42 192.69 607.85 193.99 598.66 195.29 597.3 197.02 594.87 198.76 598.15 200.49 601.05 201.79 609.23 203.09 596.59 204.61 586.49 206.13 581.82 207.86 580.97 209.16 588.18 210.46 599.29 211.55 611.07 212.85 594.91 213.93 583.72 215.23 603.3 216.53 621.33 218.27 612.18 219.78 605.7 221.3 599.93 223.03 605.73 224.77 607.7 226.5 609.71 228.24 616.33 229.97 605.28 231.71 601.83 232.79 625.07 233.87 646.75 234.96 656.48 236.04 635.5 237.34 616.49 238.64 607.5 239.94 625.15 241.24 633.05 242.54 615.98 243.84 605.37 245.14 611.81 246.45 615.13 247.75 600.99 249.05 605.75 250.35 620.51 251.65 633.26 252.95 643.26 254.25 616.45 255.55 598.44 256.85 616.11 258.15 635.97 259.45 625.17 260.97 603.73 262.49 612.52 263.79 616.19 265.09 603.73 265.84 611.83 266.92 604.88 268.01 609.78 269.52 612.16 270.82 621.03 272.34 629.02 273.86 640.54 275.59 644.39 277.76 653.56 279.28 646.38 281.01 645.13 283.18 648.99 284.7 657.56 286 670.3 287.08 681.21 288.6 665.8 290.12 668.69 291.85 665.46 293.37 683.38 294.67 694.42 296.18 700.96 297.7 685.23 299.44 681.39 301.6 678.39 303.77 681.32 305.94 679.25 308.11 683.93 310.27 682.61 311.79 683.93 313.53 671.24 315.69 671.93 317.86 675.05 319.6 671.04 321.11 678.93 322.85 676.46 324.36 683.07 326.1 673.73 327.62 678.7 329.13 675.7 330.87 672.18 332.38 671.83 333.68 683.87 335.2 685.99 336.94 682.45 338.45 687.66 339.97 689.42 341.27 696.92 342.79 683.43 344.31 681.55 346.04 678.99 347.56 687.34 348.86 692.26 349.94 674.78 351.03 669.96 352.11 683.71 353.19 700.98 354.28 709.17 355.36 716.68 356.45 705.49 357.53 696.37 358.61 688.26 359.91 681.62 361.21 677.94 362.08 693.95 362.95 718.07 364.47 727.1 365.55 735.8 366.63 726.46 368.15 726.81 369.34 731.36 370.42 759.57 371.5 772.72 372.8 763.83 374.1 788.57 375.19 765.79 376.27 744.5 377.36 718.36 378.44 700.62 379.52 674.07 380.17 705.02 381.26 717.74 382.77 705.1 384.08 718.11 385.59 726.46 387.11 714.09 388.84 715.45 390.58 709.33 392.1 713.4 393.61 701.07 394.91 689.39 396.43 686.61 397.95 687.37 399.25 665.85 400.55 659.74 401.85 670.17 403.58 669.41 405.1 671.06 406.18 683.73 407.49 696.63 408.79 689.71 410.09 683.49 411.39 712.36 413.12 711.92 414.42 689.61 415.94 700.27 417.46 689.64 419.19 696.84 420.49 690.31 421.36 713.29 422.23 728.56 423.53 704.79 425.26 696.41 426.78 705.29 428.29 700.47 430.03 704.38 431.76 700.89 433.28 705.11 434.36 687.85 435.66 669.88 437.18 661.4 438.7 664.12 440.87 658.6 442.38 670 443.47 683.6 444.34 715.65 445.64 705.06 446.94 687.64 448.24 705.05 449.97 713.18 451.71 705 453.44 703.43 454.52 683.02 455.61 639.56 456.91 614.48 458.21 605.86 459.73 596.92 461.03 599.12 462.54 610.45 464.28 604.88 465.79 602.9 467.31 612.11 468.4 630.94 469.48 650.7 470.56 679.04 471.65 705.3 472.73 718.34 474.03 724.73 475.12 731.28 476.42 724.29 477.72 723.95 479.23 717.69 480.53 705.44 482.05 698.78 483.57 702.71 485.09 694.44 485.4 694 486.92 720.92 488.44 711.53 490.17 703.75 491.69 724.72 493.42 732.96 494.94 728.59 496.68 722.47 498.19 748.5 499.49 739.54 501.01 727.24 502.53 729.2 503.83 707.92 504.91 695.61 506.43 703.54 507.51 739.89 509.03 728.99 510.77 731.33 512.28 728.84 514.02 738.18 515.75 727.57 517.27 717.88 518.79 735.26 520.52 740.12 522.25 729.11 523.77 720.74 525.51 720.53 527.02 722.92 528.54 733.35 529.84 760.89 531.36 741.78 533.09 752.76 534.61 746.52 536.34 747.17 537.86 733.89 539.38 727.05 541.11 722.63 542.63 720.44 543.93 730.84 545.01 718.15 546.53 729.07 547.83 746.16 549.13 722.16 550.43 733.19 551.52 711.45 552.6 713.55 553.68 744.29 554.77 698.94 556.29 724.84 557.8 711.95 558.89 698.82 559.97 715.64 561.05 703.54 561.71 664.58 562.36 624.73 562.79 570.72 563.44 538.43 564.31 527.28 565.61 530.16 567.12 541.87 568.64 526.99 570.38 529.9 572.11 533.5 573.63 538.25 574.71 581.51 575.58 618.54 576.92 582.18 578.01 553.56 579.09 581.57 580.17 570.96 581.47 557.44 582.77 559.87 584.08 577.6 584.94 601.37 586.03 581.32 587.11 577.51 588.41 603.58 589.71 614.68 590.79 581.74 591.88 559.01 593.18 558.26 594.48 569.01 595.78 560 597.08 577.55 598.16 603.02 599.25 622.21 600.33 581.92 601.42 562.32 602.5 575 603.58 592.84 604.88 586.3 606.18 620.78 607.27 642.62 608.35 616.82 609.44 592.74 610.52 577.43 612.04 576.55 613.77 577.85 614.86 590.44 615.94 612.49 617.02 634.16 618.32 655.04 619.62 646.94 620.92 634.01 622.23 642.23 623.53 625.36 624.83 612.3 626.13 605.16 627.43 592.15 628.73 586.26 629.6 584.27 630.9 592.61 632.2 600.88 633.5 589.96 634.8 594.38 636.1 583.97 637.4 577.82 638.48 566.02 639.57 559.41 640.43 581.5 641.3 618.19 642.6 607.65 643.68 625.54 644.77 608.52"/>
<path class="ln" style="stroke-width:3.9" stroke="#4472c4" d="M243.05 892.4H269.85"/>
<text x="273.3" y="896.5" transform="rotate(.03 273.3 896.5)" textLength="17.5" lengthAdjust="spacingAndGlyphs">Pf2</text>
<path class="ln" style="stroke-width:3.9" stroke="#ed7d31" d="M304.45 892.4H331.65"/>
<text x="335.8" y="896.5" transform="rotate(.03 335.8 896.5)" textLength="34.2" lengthAdjust="spacingAndGlyphs">Pf2 D1</text>
<path class="ln" style="stroke-width:3.9" stroke="#a5a5a5" d="M383.75 892.4H411.05"/>
<text x="415" y="896.5" transform="rotate(.03 415 896.5)" textLength="34.6" lengthAdjust="spacingAndGlyphs">Pf2 D6</text>
</g>
<g id="c3">
<path class="g" d="M42.9 925.9H657.3"/>
<text x="30.8" y="930.18" transform="rotate(.03 30.8 930.18)" text-anchor="end">1.8</text>
<path class="g" d="M42.9 971.24H657.3"/>
<text x="30.8" y="975.52" transform="rotate(.03 30.8 975.52)" text-anchor="end">1.6</text>
<path class="g" d="M42.9 1016.59H657.3"/>
<text x="30.8" y="1020.87" transform="rotate(.03 30.8 1020.87)" text-anchor="end">1.4</text>
<path class="g" d="M42.9 1061.93H657.3"/>
<text x="30.8" y="1066.21" transform="rotate(.03 30.8 1066.21)" text-anchor="end">1.2</text>
<path class="g" d="M42.9 1107.28H657.3"/>
<text x="30.8" y="1111.56" transform="rotate(.03 30.8 1111.56)" text-anchor="end">1</text>
<path class="g" d="M42.9 1152.62H657.3"/>
<text x="30.8" y="1156.9" transform="rotate(.03 30.8 1156.9)" text-anchor="end">0.8</text>
<path class="g" d="M42.9 1197.97H657.3"/>
<text x="30.8" y="1202.25" transform="rotate(.03 30.8 1202.25)" text-anchor="end">0.6</text>
<path class="g" d="M42.9 1243.31H657.3"/>
<text x="30.8" y="1247.59" transform="rotate(.03 30.8 1247.59)" text-anchor="end">0.4</text>
<path class="g" d="M42.9 1288.66H657.3"/>
<text x="30.8" y="1292.94" transform="rotate(.03 30.8 1292.94)" text-anchor="end">0.2</text>
<path class="g" d="M42.9 1334H657.3"/>
<text x="30.8" y="1338.28" transform="rotate(.03 30.8 1338.28)" text-anchor="end">0</text>
<text x="669.5" y="930.18" transform="rotate(.03 669.5 930.18)">3</text>
<text x="669.5" y="998.2" transform="rotate(.03 669.5 998.2)">2.5</text>
<text x="669.5" y="1066.21" transform="rotate(.03 669.5 1066.21)">2</text>
<text x="669.5" y="1134.23" transform="rotate(.03 669.5 1134.23)">1.5</text>
<text x="669.5" y="1202.25" transform="rotate(.03 669.5 1202.25)">1</text>
<text x="669.5" y="1270.26" transform="rotate(.03 669.5 1270.26)">0.5</text>
<text x="669.5" y="1338.28" transform="rotate(.03 669.5 1338.28)">0</text>
<path class="g" d="M43.05 1334v4"/>
<text x="43.05" y="1355.28" transform="rotate(.03 43.05 1355.28)" text-anchor="middle">18-06-2013</text>
<path class="g" d="M136.99 1334v4"/>
<text x="136.99" y="1355.28" transform="rotate(.03 136.99 1355.28)" text-anchor="middle">18-06-2014</text>
<path class="g" d="M230.93 1334v4"/>
<text x="230.93" y="1355.28" transform="rotate(.03 230.93 1355.28)" text-anchor="middle">18-06-2015</text>
<path class="g" d="M324.87 1334v4"/>
<text x="324.87" y="1355.28" transform="rotate(.03 324.87 1355.28)" text-anchor="middle">18-06-2016</text>
<path class="g" d="M418.81 1334v4"/>
<text x="418.81" y="1355.28" transform="rotate(.03 418.81 1355.28)" text-anchor="middle">18-06-2017</text>
<path class="g" d="M512.75 1334v4"/>
<text x="512.75" y="1355.28" transform="rotate(.03 512.75 1355.28)" text-anchor="middle">18-06-2018</text>
<path class="g" d="M606.69 1334v4"/>
<text x="606.69" y="1355.28" transform="rotate(.03 606.69 1355.28)" text-anchor="middle">18-06-2019</text>
<path class="ln" stroke="#4472c4" d="M43.6 990.71 45.32 994.67 47.28 999.5 49.74 1005.7 51.71 1003.17 54.16 999.48 56.62 1003.14 59.08 1005.3 61.53 1004.51 63.99 1005.61 66.45 1009.12 67.92 1009.98 69.39 1012.91 71.85 1017.4 74.31 1021.55 75.78 1021.26 77.25 1019.02 78.85 1018.25 80.45 1015.42 82.9 1012.61 85.36 1017.54 87.82 1019.03 90.27 1024.01 92.73 1027.6 95.19 1030.11 96.78 1027.45 98.38 1025.07 100.84 1028.85 102.31 1028.57 103.79 1028.47 105.63 1028.75 107.47 1028.42 109.93 1031.59 111.77 1030.12 113.61 1031.06 115.09 1031.59 116.56 1033.81 118.16 1034.66 119.75 1034.75 122.21 1043.17 123.69 1046.56 125.16 1051.16 126.75 1048.87 128.35 1046.94 129.82 1049.27 131.3 1049.32 133.76 1051.24 135.35 1048.48 136.95 1048.72 138.54 1046.82 140.14 1046.9 141.62 1046.93 143.09 1044.79 145.06 1042.24 146.78 1048.32 149.23 1053.2 150.83 1054.03 152.43 1057.32 154.88 1060.47 155.32 1061.02 156.91 1061.14 158.51 1062.13 160.11 1061.87 161.71 1061.73 163.18 1063.43 164.65 1066.67 167.11 1064.77 169.57 1059.1 171.53 1057.2 173.99 1060.9 175.47 1060.96 176.94 1061.83 178.78 1061.28 180.62 1062.23 182.22 1063.52 183.82 1064.09 185.29 1062.31 186.76 1060.89 188.73 1062.09 190.45 1067.76 192.04 1069.61 193.64 1071.73 195.12 1069.81 196.59 1068.48 198.06 1067.1 199.54 1066.44 201.13 1065.28 202.73 1065.49 204.32 1065.93 205.92 1064.63 207.39 1063.36 208.87 1063.14 210.34 1062.67 211.82 1064.38 213.41 1063.96 215.01 1065.86 216.61 1066.2 218.21 1067.23 220.66 1071.74 222.13 1072.83 223.61 1075.28 225.09 1078.19 226.56 1078.99 228.16 1079.85 229.75 1080.32 231.35 1080.99 232.95 1081.83 234.43 1080.8 235.9 1081.24 238.35 1085.4 239.82 1086.12 241.3 1086.7 243.76 1084.91 245.35 1085.99 246.95 1086.85 248.54 1086.49 250.14 1087.95 251.62 1089.45 253.09 1089.01 254.56 1088.71 256.04 1088.13 257.63 1088.11 259.23 1087.14 260.83 1089.09 262.43 1089.02 264.88 1091.32 266.79 1093.84 268.26 1095.19 269.74 1095.23 271.22 1095.41 272.69 1096.21 274.28 1097.42 275.88 1098.4 277.48 1098.79 279.08 1100.08 280.55 1100.81 282.02 1102.23 284.48 1096.25 285.96 1093.31 287.43 1092.65 289.88 1090.6 292.34 1082.82 294.31 1080.51 295.78 1080.96 297.25 1080.68 298.85 1080.42 300.45 1080.11 302.04 1080.6 303.64 1079.06 305.12 1078.27 306.59 1078.05 308.06 1077.07 309.54 1077.05 311.13 1075.39 312.73 1074.09 314.33 1073.98 315.92 1072.83 317.39 1073.09 318.87 1071.83 320.35 1071.62 321.82 1070.76 323.41 1068.74 325.01 1067.9 326.73 1065.56 326.98 1048.46 328.7 1043.79 330.17 1041.87 331.65 1041.04 333.25 1039.44 334.84 1040.06 336.68 1039.56 338.53 1037.46 340 1035.49 341.47 1033.36 343.44 1027.42 344.91 1027.7 346.39 1026.12 347.99 1025.63 349.58 1024.9 351.17 1023.3 352.77 1022.91 354.25 1023.02 355.72 1021.53 357.2 1021.59 358.67 1020.19 360.26 1019.17 361.86 1017.76 363.46 1016.69 365.06 1015.97 366.53 1013.57 368.01 1012.98 370.46 1007.56 372.92 1003.41 374.88 1000.38 377.28 994.1 379.74 995.52 382.2 990.16 384.16 989.35 386.62 994.4 389.08 991.34 391.53 990.83 393 988.92 394.48 989.68 395.96 989.1 397.43 986.66 399.02 987.92 400.62 986.53 402.22 984.06 403.82 983.52 406.27 981.1 407.75 980.27 409.22 979.87 411.68 976.16 414.13 972.23 415.61 971.24 417.08 971.79 419.05 968.03 421.01 966.96 422.24 972.42 423.47 994.6 425.92 1001.94 428.38 1008.01 430.84 1011.75 432.56 1016.5 435.01 1017.66 437.47 1016.17 439.93 1011.13 442.38 1007.46 444.1 1000.63 446.56 998.3 448.53 992.86 450.49 989.1 452.7 987.71 454.67 990.44 457.12 992.67 459.58 994.3 462.04 992.61 463.76 994.16 465.72 1001.22 468.18 1007.37 469.65 1009.61 471.13 1010.2 473.58 1012.41 476.04 1017.87 478.01 1023.69 479.97 1033.85 481.69 1039.47 483.41 1043.01 484.88 1047.07 486.05 1051.81 488.51 1055.44 490.97 1057.33 493.42 1059.45 495.88 1060.43 498.34 1063.49 500.06 1075.45 501.53 1085 503.99 1088.04 506.45 1091.5 508.9 1093.6 510.38 1093.76 511.85 1094.12 514.31 1097.8 516.76 1096.61 519.22 1094.23 521.68 1090.51 524.13 1088.86 525.61 1089.51 527.08 1088.83 528.67 1089.35 530.27 1091.38 531.87 1093.04 533.47 1093.47 534.94 1096.16 536.42 1096.4 537.89 1098.15 539.36 1099.71 540.96 1100.48 542.56 1101.29 544.15 1100.71 545.75 1102.26 547.23 1103.43 548.7 1103.41 551.16 1102.49 553.61 1097.29 556.07 1091.52 558.53 1086.47 560.98 1083.2 563.44 1078.82 565.9 1078.09 567.37 1075.34 568.84 1072.64 571.3 1070.57 573.27 1063.21 574.83 1058.4 577.28 1052.05 579.74 1046.73 582.2 1042.09 584.65 1037.32 587.11 1032.28 589.57 1028.45 591.04 1029.24 592.51 1028.27 594.97 1024.71 597.43 1022.24 599.88 1021.32 601.48 1021.84 603.08 1022.49 605.53 1021.06 607.13 1020.86 608.73 1019.13 611.18 1016.44 612.65 1016.82 614.13 1016.11 616.59 1014.2 618.07 1015.74 619.54 1016.2 621.13 1016.54 622.73 1017.44 625.19 1016.34 627.64 1011.31 630.1 1009.15 632.56 1007.89 635.01 1011.73 636.98 1001.35 638.7 995.72 641.16 992.6 643.61 989.18 645.58 987.28 648.03 988.93 650.49 993.16 652.95 991.72 655.4 995.68 657.86 997.91"/>
<path class="ln" stroke="#ed7d31" d="M43.6 1011.59 45.32 1017.67 47.77 1023.06 50.23 1026.06 52.69 1022.25 55.14 1020.46 57.11 1026.41 59.57 1024.12 62.02 1025.32 64.48 1027.36 66.94 1026.3 69.39 1029.79 71.85 1034.67 73.49 1034.36 75.12 1034.02 76.76 1034.58 78.4 1033.87 80.04 1034.57 81.68 1033.64 84.13 1036.57 86.59 1038.78 89.05 1043.57 91.5 1047.38 92.97 1047.52 94.45 1049.72 96.05 1049.09 97.64 1047.17 100.1 1045.96 102.56 1044.94 105.01 1047.61 107.47 1044.62 109.19 1052.05 111.65 1054.95 114.1 1056.14 115.7 1057.62 117.3 1058.37 119.75 1057.05 121.47 1063.38 123.93 1069.69 126.39 1072.93 127.99 1070.67 129.58 1070.66 132.04 1072.86 133.63 1075.43 135.23 1075.78 136.7 1075.12 138.18 1073.24 139.66 1070.54 141.13 1069.12 143.58 1063.08 146.04 1060.34 148.5 1065.91 150.09 1067.11 151.69 1068.23 153.28 1070.53 154.88 1074.43 154.83 1075.2 156.3 1078.08 157.77 1080.32 159.37 1079.72 160.97 1077.62 163.42 1083.13 165.02 1084.36 166.62 1086.83 169.08 1080.68 171.53 1072.73 173.25 1077.96 175.71 1079.34 177.31 1079.44 178.9 1080.13 180.38 1082.85 181.85 1083.68 184.31 1081.26 186.76 1077.79 188.73 1077.93 190.45 1084.16 192.04 1085.01 193.64 1086.4 195.12 1086.89 196.59 1087.55 198.43 1087.22 200.27 1087.11 202.12 1085.64 203.96 1085.21 205.44 1084.31 206.91 1082.89 209.36 1081.7 210.96 1081.44 212.56 1082.81 215.01 1081.23 216.98 1078.26 219.19 1084.02 220.78 1086.29 222.38 1087.54 223.98 1088.41 225.58 1090.11 227.06 1090.29 228.53 1092.51 230.37 1091.81 232.21 1093.03 233.81 1092.52 235.4 1094 236.88 1094.89 238.35 1094.26 240.19 1093.99 242.04 1094.5 243.88 1094.61 245.72 1094.22 247.56 1094.14 249.41 1094.64 251.25 1094.81 253.09 1094.28 254.94 1095.33 256.78 1095.43 258.62 1095.1 260.46 1095.4 262.92 1096.52 264.88 1097.53 266.79 1099.84 268.26 1102.31 269.74 1102.32 271.22 1102.79 272.69 1103.47 274.28 1104.73 275.88 1104.8 277.48 1106.09 279.08 1105.76 280.55 1106.37 282.02 1108.48 283.99 1109.79 286.45 1103.94 287.92 1102.08 289.39 1100.44 291.85 1093.74 293.82 1085.5 295.53 1083.05 297.13 1083.5 298.73 1083.15 300.21 1081.48 301.68 1082.09 303.15 1082.01 304.62 1082.98 306.22 1081.91 307.82 1081.54 309.41 1079.54 311.01 1078.9 312.49 1079.57 313.96 1078.3 315.44 1075.64 316.91 1075.71 318.5 1075.09 320.1 1075.62 321.7 1074.84 323.29 1073.27 324.76 1072.81 326.24 1071.7 326.98 1053.19 328.7 1052.1 330.17 1050.97 331.65 1050.96 333.25 1049.24 334.84 1048.04 336.43 1049.27 338.03 1047.61 339.5 1046.16 340.98 1045.92 343.44 1041.13 344.91 1040.83 346.39 1038.62 347.99 1037.27 349.58 1035.76 352.04 1031.59 353.63 1031.8 355.23 1032.38 356.71 1031.38 358.18 1030.91 359.65 1031.57 361.13 1029.89 362.73 1028.24 364.32 1027.82 365.91 1027.03 367.51 1025.52 369.97 1018.63 372.43 1015.59 374.88 1012.68 377.28 1004.9 379.74 1001.51 382.2 998.18 384.16 995.86 385.88 1001.45 387.6 1005.28 389.08 1009.33 391.04 1001.32 393.25 998.25 395.71 995.09 398.16 996.77 400.62 993.88 403.08 993.92 405.53 991.42 407.99 987.81 410.45 986.6 412.9 975.8 415.36 974.52 417.82 973.31 420.27 970.72 421.99 969.89 422.73 1006.89 425.19 1011 427.64 1017.95 429.36 1022.74 430.84 1030.66 432.07 1036.1 433.79 1030.65 436.24 1028.84 438.7 1029 440.66 1022.08 443.12 1020.9 444.84 1011.24 447.3 1012.34 449.02 1005.6 450.98 996.98 452.95 994.25 455.16 998.27 457.12 1001.59 459.58 1002.73 462.04 997.75 464 996.38 465.72 1004.89 468.18 1011.09 469.65 1012.28 471.13 1013.51 473.58 1017.26 476.04 1021.1 478.01 1027.4 479.73 1041.1 481.69 1051.01 483.41 1055.63 484.88 1059.57 487.28 1063.02 489.74 1066.77 491.22 1066.24 492.69 1065.26 495.14 1068.41 497.6 1065.71 499.57 1070.19 500.55 1082.46 502.51 1086.76 504.97 1087.8 507.43 1091.35 509.88 1095.43 512.34 1096.03 514.31 1104.99 515.53 1107.27 517.25 1102.71 519.22 1106.02 521.18 1097.52 522.9 1092.59 525.36 1092.47 527.82 1093.56 530.27 1093.58 531.87 1095.49 533.47 1097.53 534.94 1097.23 536.42 1095.94 537.89 1099.18 539.36 1101.17 541.82 1103.65 544.28 1105.3 546.73 1103.61 548.7 1107.62 550.17 1108.25 552.14 1102.07 554.6 1099.07 557.3 1094.77 559.75 1092.5 562.21 1088.73 564.67 1085.38 567.12 1083.23 569.58 1079.22 572.04 1075.86 573.76 1068.23 574.83 1064.18 577.28 1057.72 579.74 1055.77 582.2 1053.38 584.65 1050.49 586.12 1049.44 587.6 1048.02 590.06 1046.8 592.51 1049.86 594.97 1046.98 597.43 1043.14 599.88 1039.68 602.34 1041.88 604.8 1043.04 607.25 1042.29 609.71 1039.69 612.17 1037.06 614.62 1036.12 617.08 1039.26 619.54 1034.39 621.99 1032.62 624.45 1033.93 626.91 1031.01 629.36 1031.88 631.82 1031.44 634.28 1029.63 636.24 1023.68 638.21 1018.39 640.66 1016.59 643.12 1011.17 645.58 1009.25 648.03 1010.13 650.49 1015.32 652.95 1018.62 655.4 1021.28 657.86 1023.36"/>
<path class="ln" stroke="#a5a5a5" d="M43.6 1060.72 44.34 1082.87 45.56 1063.06 46.79 1093.04 48.51 1073.17 50.23 1094.39 51.71 1077.63 53.42 1101.64 54.65 1070.09 55.88 1053.12 57.11 1044.57 58.83 1058.32 60.3 1061.45 62.02 1046.92 63.25 1055.33 64.48 1039.76 66.45 1040.97 68.16 1050.88 69.39 1040.63 70.62 1057.2 71.85 1046.22 73.32 1038.92 74.31 1009.63 75.53 984.53 76.76 984.9 77.75 1009.38 78.73 1033.34 80.45 1036.19 82.17 1038.47 83.64 1041.96 85.12 1045.85 86.59 1063.56 87.82 1082.97 89.05 1105.05 90.27 1083.23 91.99 1083.29 93.47 1092.53 94.7 1063.54 95.92 1082.48 97.64 1092.69 99.36 1107.72 100.59 1132.3 101.82 1156.4 102.8 1175.1 103.79 1143.96 105.01 1116.91 106.24 1103.61 107.72 1102.21 109.19 1126.92 110.66 1107.25 111.89 1083.19 113.12 1069.18 114.35 1078.04 115.58 1112.18 117.05 1132.06 118.53 1122.05 119.75 1151.18 120.98 1167.8 122.46 1144.67 123.93 1154.2 125.16 1181.34 126.39 1212.58 127.86 1215.61 129.58 1215.07 131.3 1183.03 132.77 1183.51 134 1205.5 135.23 1229.76 136.46 1274.36 137.69 1205.88 138.92 1197 139.9 1225.71 141.13 1254.6 142.36 1282.21 143.58 1267 144.81 1281.81 146.04 1247.71 147.27 1273.93 148.5 1288.96 149.91 1254.81 151.14 1237.62 152.37 1229.85 153.6 1224.86 154.83 1180.79 155.81 1205.82 156.79 1156.26 158.02 1139.77 159.25 1169.28 160.23 1205.91 161.71 1235.21 162.93 1196.27 164.16 1225.75 165.39 1206.01 166.37 1156.26 167.6 1109.67 168.83 1132.2 169.81 1160.93 171.04 1148.96 172.02 1169.04 173.99 1173.3 175.71 1171.09 177.43 1178.14 179.39 1175.76 180.87 1188.7 182.1 1164.33 183.32 1203.38 184.8 1195.4 186.27 1185.59 187.75 1190.79 189.22 1197.35 190.69 1180.61 192.17 1168.56 193.64 1158.54 195.12 1156.46 196.59 1166.19 198.06 1156.86 199.54 1154.39 201.01 1159.4 202.49 1144.21 203.96 1149.39 205.43 1132.02 206.91 1127.98 208.38 1129.19 209.86 1143.37 211.33 1132.34 212.8 1143.79 214.28 1130.03 215.75 1146.35 217.23 1160.74 218.7 1149.29 220.17 1156.41 221.65 1159.07 223.12 1161.04 224.6 1149.68 226.07 1142.06 227.54 1144.67 229.02 1137.36 230.49 1128.31 231.97 1146.36 233.44 1143.85 234.91 1147.76 236.39 1131.89 237.86 1149.6 239.34 1153.83 240.81 1144.2 242.28 1151.54 243.76 1161.67 245.23 1149.06 246.71 1146.96 247.69 1181.36 248.67 1195.46 250.14 1173.99 251.62 1195.84 253.09 1193.6 254.57 1181.29 256.04 1168.88 257.51 1180.75 258.99 1188.91 260.46 1195.04 261.94 1178.21 263.41 1180.93 264.88 1207.76 266.55 1190.69 268.51 1188.87 270.23 1185.06 271.71 1183.83 273.42 1193.11 275.14 1184.53 277.11 1177.59 278.58 1191.9 280.55 1188.07 282.51 1184.79 284.48 1179.09 286.45 1173.41 288.41 1169.15 290.38 1163.71 292.34 1160.12 294.31 1163.47 295.78 1169.23 297.25 1159.35 298.24 1155.7 299.71 1161.57 301.68 1168.72 303.64 1171.4 305.61 1173.59 307.57 1175.23 309.54 1176.31 311.5 1179.06 313.47 1174.07 315.19 1176.53 316.91 1171.03 318.38 1181.98 319.86 1175.67 321.82 1173.79 323.79 1174.82 325.75 1174.04 327.23 1164.25 328.21 1180.92 329.44 1194.19 331.16 1190.77 332.63 1177 334.1 1175.66 335.58 1164.88 337.05 1176.11 338.53 1174.18 340 1156.23 341.47 1153.66 342.46 1119.88 343.93 1127.3 345.4 1131.57 346.88 1129.82 348.35 1141.52 349.83 1148.93 351.3 1153.61 352.77 1156.71 354.25 1139.17 355.72 1147.22 357.2 1141.88 358.18 1119.99 359.41 1094.89 360.64 1073.07 362.11 1062.82 363.58 1058.69 365.06 1065.73 366.53 1057.75 368.01 1054.5 369.48 1063.05 370.95 1075.43 371.94 1087.65 373.41 1077.84 374.88 1080.64 376.3 1078.02 377.77 1090 379.25 1102.61 380.48 1122.2 381.71 1154.22 382.93 1171.27 384.16 1187.5 385.39 1146.15 386.62 1119.35 387.85 1136.21 389.57 1152.58 391.04 1139.65 392.51 1146.73 393.99 1133.87 395.71 1137.05 397.43 1132.76 398.9 1146.78 400.62 1158.91 402.34 1166.38 403.82 1176.49 405.29 1158.99 406.76 1151.83 407.99 1122.25 409.22 1092.85 410.69 1107.11 412.17 1090.14 413.64 1079.83 415.12 1097.11 416.59 1082.61 417.82 1121.87 419.05 1159.66 420.27 1121.98 421.01 1087.83 421.75 1074.24 422.73 1110.2 423.47 1133.88 424.45 1095.04 425.43 1146.11 426.42 1166.44 427.89 1181.1 429.36 1195.88 430.59 1206.91 431.82 1170.85 433.29 1195.34 434.77 1210.04 436.24 1219.23 437.72 1183.11 439.19 1168.42 440.66 1195.35 441.89 1220.22 443.12 1244.35 444.35 1260.62 446.07 1244.69 447.54 1249.4 449.02 1239.54 450.49 1252.42 451.97 1262.85 453.19 1232.27 454.42 1195.49 455.9 1181.14 457.37 1171.44 458.84 1158.4 460.32 1154.4 461.79 1159.06 463.02 1173.81 464.49 1146.63 466.21 1153.61 467.69 1146.44 469.41 1163.43 471.13 1124.13 472.36 1146.25 473.58 1122.44 474.81 1105.96 476.04 1112.65 477.27 1121.75 478.5 1159.18 479.73 1151.41 480.95 1171.04 482.43 1185.43 483.9 1190.6 484.88 1191.64 485.32 1192.07 487.28 1191 488.76 1181.62 490.23 1161.43 491.21 1150.25 492.69 1169.1 494.16 1184.98 495.64 1171.09 497.11 1161.76 498.34 1146.74 499.08 1134.77 500.06 1171.74 501.29 1200.41 502.27 1213.29 503.74 1197.9 505.22 1205.48 506.94 1186.22 508.16 1168.56 509.39 1190.57 510.62 1203.56 511.85 1208.53 513.08 1196.31 514.31 1205.57 515.78 1199.32 517.25 1180.85 518.73 1170.87 520.2 1176.11 521.68 1181.61 523.15 1173.77 524.62 1168.33 526.1 1182.23 527.82 1173.63 529.54 1170 531.01 1176.17 532.73 1175.42 534.45 1181.27 536.42 1177.34 538.14 1180.65 539.61 1196.13 541.33 1203.73 542.8 1206.84 544.52 1201.84 546.24 1178.3 547.72 1190.96 549.19 1174.17 550.42 1169.21 551.65 1180.94 553.12 1188.56 554.84 1186.15 556.56 1171.22 558.03 1188.46 559.51 1173.47 560.98 1191.14 562.46 1199.71 563.93 1180.87 565.4 1166.26 566.63 1183.86 567.86 1176.14 569.34 1163.49 570.81 1168.96 572.28 1154.39 573.76 1143.17 575.23 1144.12 576.71 1149.62 578.18 1156.47 579.41 1131.82 580.64 1105 582.11 1112.19 583.58 1117.53 585.06 1099.59 586.53 1121.64 588.01 1097.58 589.23 1073.37 590.46 1057.78 591.53 1068.03 593.01 1077.55 594.48 1077.85 595.71 1097.32 596.94 1112.65 598.16 1116.58 599.39 1087.27 600.62 1062.7 601.85 1058.38 603.08 1072.45 604.31 1097.06 605.53 1092.82 606.76 1107.03 608.24 1121.5 609.71 1107.14 610.69 1139.44 612.17 1121.59 613.64 1109.34 615.12 1102.67 616.1 1092.07 617.33 1110.18 618.31 1146.54 619.05 1160.95 620.27 1146.81 621.5 1134.12 622.98 1125.25 624.45 1124.8 625.92 1121.73 627.15 1109.91 628.14 1087.69 629.61 1088.06 630.84 1097.6 632.07 1111.88 633.79 1106.78 635.51 1109.5 636.98 1117.04 638.21 1126.69 639.93 1119.15 641.65 1114.38 643.12 1119.41 644.84 1111.83 646.56 1117.42 648.03 1113.59 649.51 1114.56 650.98 1121.81 651.97 1136.94 652.95 1146.77 653.93 1164.54 654.91 1143.84 656.39 1146.65 657.86 1144.98"/>
<path class="ln" style="stroke-width:3.9" stroke="#4472c4" d="M249.75 1379.2H276.85"/>
<text x="279.7" y="1383.3" transform="rotate(.03 279.7 1383.3)" textLength="17.8" lengthAdjust="spacingAndGlyphs">Pf3</text>
<path class="ln" style="stroke-width:3.9" stroke="#ed7d31" d="M310.15 1379.2H337.95"/>
<text x="341.8" y="1383.3" transform="rotate(.03 341.8 1383.3)" textLength="34.6" lengthAdjust="spacingAndGlyphs">Pf3 D1</text>
<path class="ln" style="stroke-width:3.9" stroke="#a5a5a5" d="M390.05 1379.2H417.85"/>
<text x="421.7" y="1383.3" transform="rotate(.03 421.7 1383.3)" textLength="34.6" lengthAdjust="spacingAndGlyphs">Pf3 D6</text>
</g>
</svg></body></html>
